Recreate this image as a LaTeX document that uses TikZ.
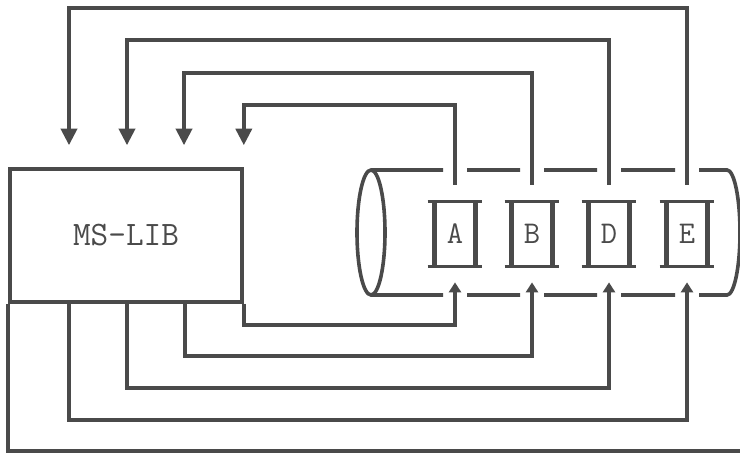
\documentclass[tikz,border=0pt]{standalone}
\usetikzlibrary{arrows.meta,positioning,calc}
\usepackage{xcolor}
\definecolor{Ink}{HTML}{4A4A4A}

\begin{document}
\begin{tikzpicture}[x=0.2mm,y=-0.2mm,
  wire/.style={Ink,line width=0.72mm},
  libbox/.style={draw=Ink,line width=0.72mm,minimum width=46.4mm,minimum height=26.6mm,inner sep=0pt,font=\ttfamily\fontsize{19.5}{19.5}\selectfont,text=Ink},
  tapebox/.style={minimum width=8mm,minimum height=12.8mm,inner sep=0pt,font=\ttfamily\fontsize{18}{18}\selectfont,text=Ink},
  bigtip/.style={-{Triangle[width=3.2mm,length=3.3mm]}},
  smalltip/.style={-{Triangle[width=2.4mm,length=2mm]}}]
\useasboundingbox (0,0) rectangle (740,459);
\node[libbox] (lib) at (126,235.5) {MS-LIB};
\foreach \n/\xx in {A/455,B/532,D/609,E/687} {
  \node[tapebox] (\n) at (\xx,234) {\n};
  \draw[wire] ([xshift=-1.4mm]\n.north west) -- ([xshift=1.4mm]\n.north east)
              ([xshift=-1.4mm]\n.south west) -- ([xshift=1.4mm]\n.south east);
  \draw[wire,line width=0.95mm] (\n.north west) -- (\n.south west) (\n.north east) -- (\n.south east);
  \coordinate (t\n) at ([yshift=3.4mm]\n.north);
  \coordinate (b\n) at ([yshift=-3.2mm]\n.south);
}
\draw[wire] (371,232.5) ellipse [x radius=2.8mm,y radius=12.5mm];
\draw[wire] (371,170) -- (443,170) (467,170) -- (520,170) (544,170) -- (597,170) (621,170) -- (675,170)
  (699,170) -- (727,170) arc[start angle=90,end angle=-90,x radius=2.6mm,y radius=12.5mm] -- (699,295)
  (675,295) -- (621,295) (597,295) -- (544,295) (520,295) -- (467,295) (443,295) -- (371,295);
\coordinate (in1) at ([yshift=4.4mm]lib.north east);
\coordinate (in2) at ([yshift=4.4mm]lib.north -| 184,0);
\coordinate (in3) at ([yshift=4.4mm]lib.north -| 127,0);
\coordinate (in4) at ([yshift=4.4mm]lib.north -| 69,0);
\draw[wire,bigtip] (tA) -- (tA |- 0,105) -| (in1);
\draw[wire,bigtip] (tB) -- (tB |- 0,73) -| (in2);
\draw[wire,bigtip] (tD) -- (tD |- 0,40) -| (in3);
\draw[wire,bigtip] (tE) -- (tE |- 0,8) -| (in4);
\coordinate (exit) at (740,451);
\draw[wire,smalltip] (lib.south east) -- (lib.south east |- 0,325) -| (bA);
\draw[wire,smalltip] (lib.south -| 185,0) -- (185,356) -| (bB);
\draw[wire,smalltip] (lib.south -| 127,0) -- (127,388) -| (bD);
\draw[wire,smalltip] (lib.south -| 69,0) -- (69,420) -| (bE);
\draw[wire] (lib.south west) -- (lib.south west |- exit) -- (exit);
\end{tikzpicture}
\end{document}
